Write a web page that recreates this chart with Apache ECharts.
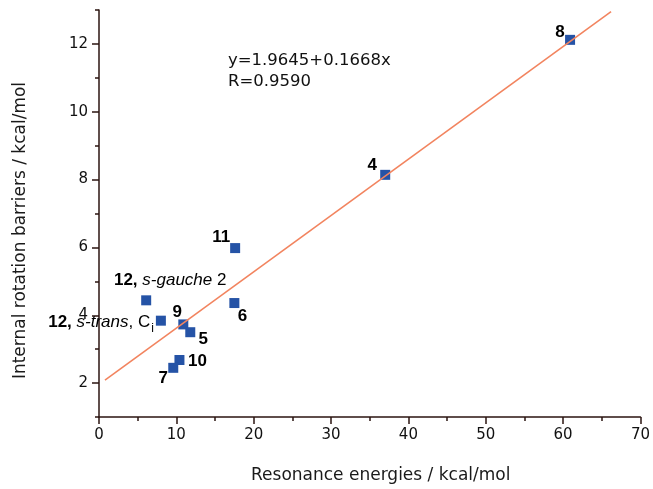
<!DOCTYPE html>
<html>
<head>
<meta charset="utf-8">
<title>Internal rotation barriers vs resonance energies</title>
<script src="https://cdn.jsdelivr.net/npm/echarts@6/dist/echarts.min.js"></script>
<style>
  html, body { margin: 0; padding: 0; background: #fff; }
  #chart { width: 653px; height: 489px; }
</style>
</head>
<body>
<div id="chart"></div>
<script>
// compounds (label text)
const names = ['8', '4', '11', '12, s-gauche 2', '6', '12, s-trans, Ci', '9', '5', '10', '7'];
const resonance = [60.9, 37.0, 17.6, 6.1, 17.5, 8.0, 10.9, 11.8, 10.4, 9.6];
const barriers = [12.12, 8.14, 5.98, 4.44, 4.36, 3.84, 3.73, 3.5, 2.68, 2.45];

// fitted line, ends as drawn in the figure
const fitX = [0.77, 66.2];
const fitY = [2.09, 12.95];
const fitText = ['y=1.9645+0.1668x', 'R=0.9590'];

// axis ticks
const xTicks = [0, 10, 20, 30, 40, 50, 60, 70];
const yTicks = [2, 4, 6, 8, 10, 12];
const yMinorTicks = [1, 3, 5, 7, 9, 11, 13];

// where each label sits around its point (px from the point centre)
const labelPlace = [
  { align: 'center', offset: [-10, -8] },
  { align: 'center', offset: [-13, -10] },
  { align: 'center', offset: [-14, -11] },
  { align: 'center', offset: [24, -20] },
  { align: 'center', offset: [8, 13] },
  { align: 'right', offset: [-7, 2] },
  { align: 'center', offset: [-6, -12] },
  { align: 'center', offset: [13, 7] },
  { align: 'center', offset: [18, 1] },
  { align: 'center', offset: [-10, 10] }
];

const axisColor = '#2b1510';
const labelFont = { fontFamily: 'Liberation Sans', fontSize: 17, color: '#000' };

function richLabel(name) {
  // plain compound numbers are just bold
  if (name.indexOf(',') < 0) return '{b|' + name + '}';
  let parts = name.split(', ');
  let out = '{b|' + parts[0] + ',} ';
  let conf = parts[1].split(' ');
  out += '{i|' + conf[0] + '}';
  if (conf.length > 1) out += '{n| ' + conf.slice(1).join(' ') + '}';
  if (parts[2]) {
    // symmetry label, last letter as subscript
    out += '{n|, ' + parts[2].slice(0, -1) + '}{sub|' + parts[2].slice(-1) + '}';
  }
  return out;
}

const labelRich = {
  b: Object.assign({ fontWeight: 'bold' }, labelFont),
  i: Object.assign({ fontStyle: 'italic' }, labelFont),
  n: Object.assign({}, labelFont),
  sub: { fontFamily: 'Liberation Sans', fontSize: 12, color: '#000', padding: [12, 0, 0, 1] }
};

let points = names.map((n, i) => {
  return {
    name: n,
    value: [resonance[i], barriers[i]],
    label: Object.assign({
      show: true,
      position: 'inside',
      align: labelPlace[i].align,
      verticalAlign: 'middle',
      offset: labelPlace[i].offset,
      textBorderWidth: 0,
      formatter: richLabel(n),
      rich: labelRich
    }, labelFont)
  };
});

let myChart = echarts.init(document.getElementById('chart'));

let option = {
  animation: false,
  grid: { left: 99, right: 8, top: 10, bottom: 72 },
  xAxis: {
    type: 'value',
    min: xTicks[0],
    max: xTicks[xTicks.length - 1],
    interval: 10,
    name: 'Resonance energies / kcal/mol',
    nameLocation: 'middle',
    nameGap: 50,
    nameTextStyle: { fontFamily: 'DejaVu Sans', fontSize: 17, color: '#1a1a1a', padding: [0, 0, 0, 22] },
    axisLine: { show: true, onZero: false, lineStyle: { color: axisColor, width: 1.5 } },
    axisTick: { show: true, length: 7, lineStyle: { color: axisColor, width: 1.5 } },
    minorTick: { show: true, splitNumber: 2, length: 4, lineStyle: { color: axisColor, width: 1.5 } },
    axisLabel: { margin: 11, fontFamily: 'DejaVu Sans', fontSize: 15, color: '#111' },
    splitLine: { show: false }
  },
  yAxis: [{
    type: 'value',
    min: 1,
    max: 13,
    name: 'Internal rotation barriers / kcal/mol',
    nameLocation: 'middle',
    nameGap: 70,
    nameTextStyle: { fontFamily: 'DejaVu Sans', fontSize: 17, color: '#1a1a1a', padding: [0, 34, 0, 0] },
    axisLine: { show: true, onZero: false, lineStyle: { color: axisColor, width: 1.5 } },
    axisTick: { show: true, length: 7, customValues: yTicks, lineStyle: { color: axisColor, width: 1.5 } },
    axisLabel: { margin: 11, customValues: yTicks, fontFamily: 'DejaVu Sans', fontSize: 15, color: '#111' },
    splitLine: { show: false }
  }, {
    // only the short odd ticks
    type: 'value',
    min: 1,
    max: 13,
    position: 'left',
    axisLine: { show: false },
    axisTick: { show: true, length: 4, customValues: yMinorTicks, lineStyle: { color: axisColor, width: 1.5 } },
    axisLabel: { show: false },
    splitLine: { show: false }
  }],
  graphic: [{
    type: 'text',
    x: 228,
    y: 71,
    style: {
      text: fitText.join('\n'),
      fontFamily: 'DejaVu Sans',
      fontSize: 16.5,
      lineHeight: 21,
      fill: '#111',
      verticalAlign: 'middle'
    }
  }],
  series: [{
    type: 'scatter',
    symbol: 'rect',
    symbolSize: 10,
    itemStyle: { color: '#2553a6', opacity: 1 },
    data: points,
    z: 2
  }, {
    type: 'line',
    data: fitX.map((x, i) => [x, fitY[i]]),
    showSymbol: false,
    lineStyle: { color: '#f2845f', width: 1.6 },
    z: 3
  }]
};

myChart.setOption(option);
</script>
</body>
</html>
